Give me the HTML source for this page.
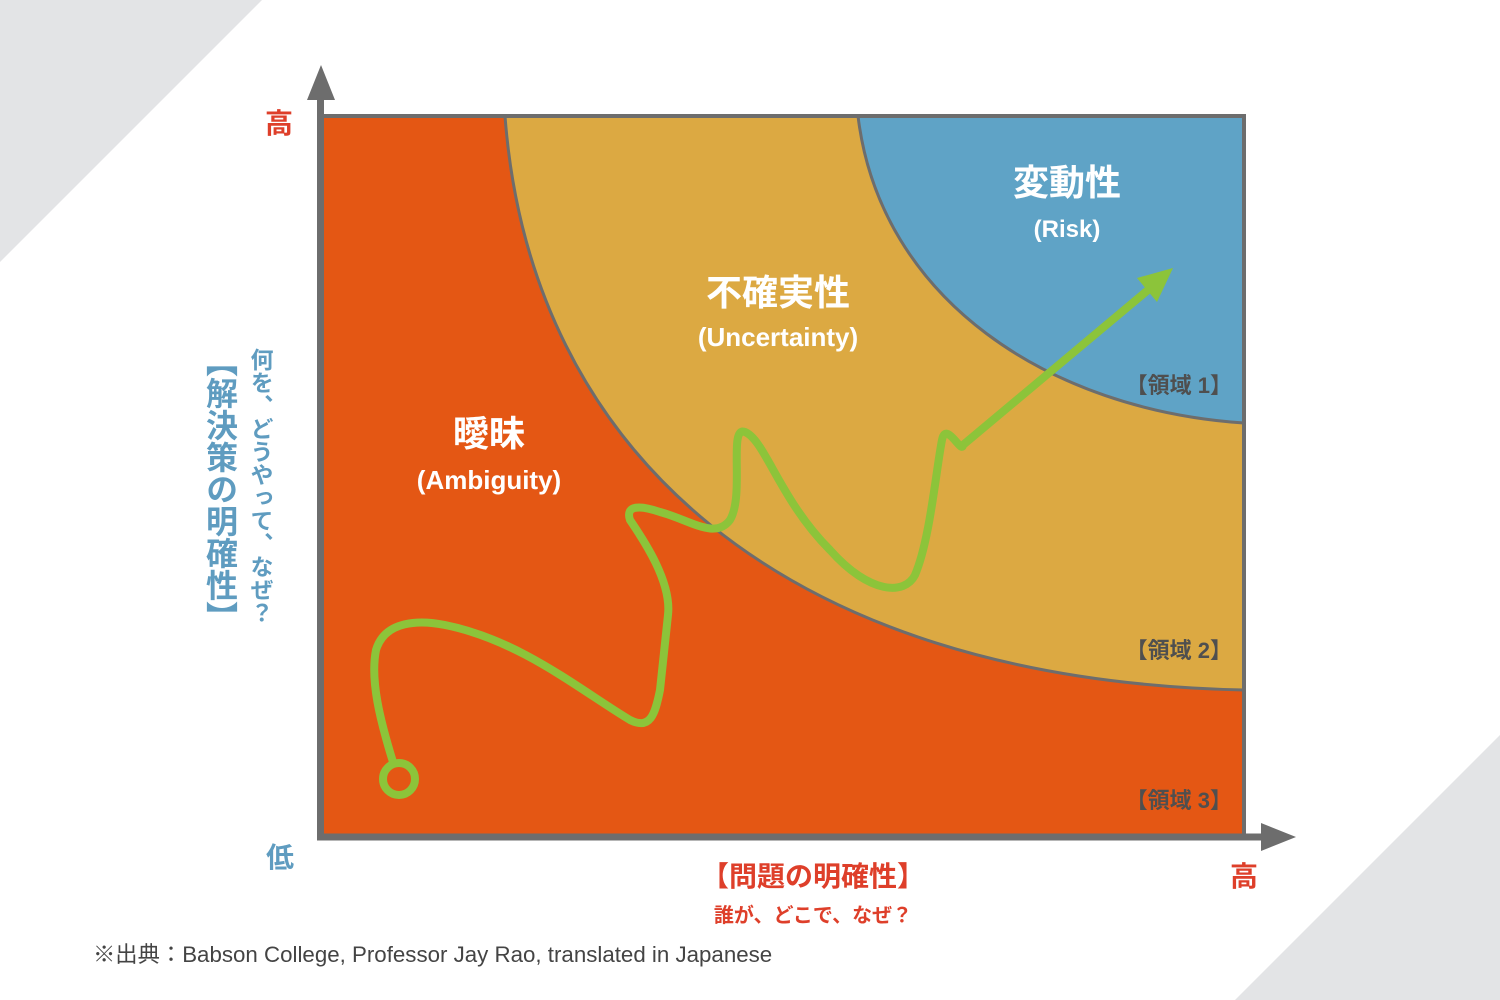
<!DOCTYPE html>
<html><head><meta charset="utf-8"><style>
html,body{margin:0;padding:0;background:#fff;}
svg{display:block}
</style></head><body>
<svg width="1500" height="1000" viewBox="0 0 1500 1000" xmlns="http://www.w3.org/2000/svg" font-family="'Liberation Sans','Noto Sans CJK JP',sans-serif">
<polygon points="0,0 262,0 0,262" fill="#e3e4e6"/>
<polygon points="1500,735 1500,1000 1235,1000" fill="#e3e4e6"/>
<rect x="321" y="116" width="923" height="721" fill="#e45714"/>
<path d="M505,116 C530,450 780,680 1244,690 L1244,116 Z" fill="#dca942" stroke="#6d6d6d" stroke-width="3"/>
<path d="M858,116 C880,300 1050,410 1244,423 L1244,116 Z" fill="#5fa3c6" stroke="#6d6d6d" stroke-width="3"/>
<rect x="321" y="116" width="923" height="721" fill="none" stroke="#6d6d6d" stroke-width="4"/>
<line x1="320.5" y1="95" x2="320.5" y2="840" stroke="#6d6d6d" stroke-width="7"/>
<polygon points="321,65 307,100 335,100" fill="#6d6d6d"/>
<line x1="317" y1="837" x2="1265" y2="837" stroke="#6d6d6d" stroke-width="7"/>
<polygon points="1296,837 1261,823 1261,851" fill="#6d6d6d"/>
<g fill="none" stroke="#8cc43a" stroke-width="8" stroke-linecap="round" stroke-linejoin="round">
<circle cx="399" cy="779" r="16"/>
<path d="M393,762 C380,720 370,680 376,650 C385,620 420,620 445,625 C520,640 580,690 630,720 C650,730 655,715 660,690 L668,615 C672,580 640,535 630,520 C625,505 640,505 660,512 C690,520 715,540 730,520 C745,495 728,425 745,432 C765,440 780,500 830,550 C870,595 905,595 915,575 C930,540 936,470 942,440 C946,420 962,455 963,445 L1160,280"/>
</g>
<polygon points="1173,268 1137,278 1157,302" fill="#8cc43a"/>
<g fill="#fff" font-weight="bold" text-anchor="middle">
<text x="1067" y="195" font-size="36">変動性</text>
<text x="1067" y="237" font-size="24">(Risk)</text>
<text x="778" y="305" font-size="36">不確実性</text>
<text x="778" y="346" font-size="26">(Uncertainty)</text>
<text x="489" y="446" font-size="36">曖昧</text>
<text x="489" y="489" font-size="26">(Ambiguity)</text>
</g>
<g fill="#4f4f4f" font-weight="bold" font-size="22" text-anchor="end">
<text x="1232" y="393">【領域 1】</text>
<text x="1232" y="658">【領域 2】</text>
<text x="1232" y="808">【領域 3】</text>
</g>
<g font-weight="bold" font-size="28" text-anchor="middle">
<text x="279" y="133" fill="#de3f2a">高</text>
<text x="280" y="867" fill="#5f9cc0">低</text>
<text x="1244" y="886" fill="#de3f2a">高</text>
<text x="813" y="886" fill="#de3f2a">【問題の明確性】</text>
<text x="813" y="922" fill="#de3f2a" font-size="20">誰が、どこで、なぜ？</text>
</g>
<g font-weight="bold" fill="#5f9cc0">
<text x="220" y="345" font-size="32" style="writing-mode:vertical-rl" text-anchor="start">【解決策の明確性】</text>
<text x="260" y="348" font-size="23" style="writing-mode:vertical-rl">何を、どうやって、なぜ？</text>
</g>
<text x="93" y="962" font-size="22.3" fill="#444">※出典：Babson College, Professor Jay Rao, translated in Japanese</text>
</svg>
</body></html>
